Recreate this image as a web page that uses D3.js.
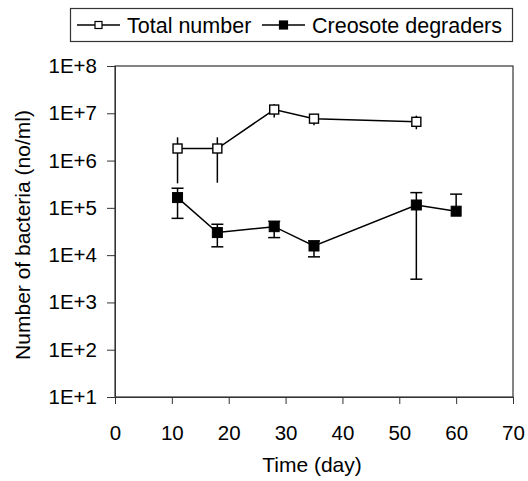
<!DOCTYPE html>
<html>
<head>
<meta charset="utf-8">
<script src="https://cdn.jsdelivr.net/npm/d3@7"></script>
<style>
  body { margin: 0; background: #fff; }
  text { font-family: "Liberation Sans", Arial, Helvetica, sans-serif; fill: #000; }
</style>
</head>
<body>
<div id="chart"></div>
<script>
// days sampled
const daysTotal = [11, 18, 28, 35, 53];
const daysCreo = [11, 18, 28, 35, 53, 60];

// total number of bacteria (no/ml), with error bar ends
const totalVals = [1.8e6, 1.8e6, 1.2e7, 7.7e6, 6.6e6];
const totalHigh = [3.1e6, 3.1e6, 1.55e7, 9.0e6, 8.9e6];
const totalLow = [3.3e5, 3.4e5, 8.1e6, 5.6e6, 4.6e6];

// creosote degraders (no/ml)
const creoVals = [1.65e5, 3.0e4, 4.0e4, 1.56e4, 1.15e5, 8.5e4];
const creoHigh = [2.6e5, 4.5e4, 5.2e4, 2.0e4, 2.1e5, 1.95e5];
const creoLow = [6.0e4, 1.5e4, 2.35e4, 9.2e3, 3.1e3, 8.5e4];

const xTicks = [0, 10, 20, 30, 40, 50, 60, 70];
const yTicks = [1e1, 1e2, 1e3, 1e4, 1e5, 1e6, 1e7, 1e8];
const yTickLabels = ["1E+1", "1E+2", "1E+3", "1E+4", "1E+5", "1E+6", "1E+7", "1E+8"];
const seriesNames = ["Total number", "Creosote degraders"];

const width = 528, height = 481;
const margin = { top: 66, right: 15, bottom: 84, left: 115 };

const svg = d3.select("#chart").append("svg")
    .attr("width", width)
    .attr("height", height);

const x = d3.scaleLinear()
    .domain([0, 70])
    .range([margin.left, width - margin.right]);

const y = d3.scaleLog()
    .domain([10, 1e8])
    .range([height - margin.bottom, margin.top]);

// plot frame
svg.append("rect")
    .attr("x", x(0)).attr("y", y(1e8))
    .attr("width", x(70) - x(0)).attr("height", y(10) - y(1e8))
    .attr("fill", "none").attr("stroke", "#333").attr("stroke-width", 1.2);

// x axis
const xAxis = svg.append("g")
    .attr("transform", `translate(0,${y(10)})`)
    .call(d3.axisBottom(x).tickValues(xTicks).tickSize(7).tickPadding(21).tickFormat(d3.format("d")));
xAxis.select(".domain").attr("stroke", "#333");
xAxis.selectAll(".tick line").attr("stroke", "#333");
xAxis.selectAll("text").attr("font-size", 20.5).style("fill", "#000");

// y axis
const yAxis = svg.append("g")
    .attr("transform", `translate(${x(0)},0)`)
    .call(d3.axisLeft(y).tickValues(yTicks).tickSize(8).tickPadding(10)
        .tickFormat((d, i) => yTickLabels[i]));
yAxis.select(".domain").attr("stroke", "#333");
yAxis.selectAll(".tick line").attr("stroke", "#333");
yAxis.selectAll("text").attr("font-size", 20.5).style("fill", "#000");

// axis titles
svg.append("text")
    .attr("x", (x(0) + x(70)) / 2 - 2).attr("y", 472)
    .attr("text-anchor", "middle").attr("font-size", 21)
    .text("Time (day)");

svg.append("text")
    .attr("transform", `translate(30,235) rotate(-90)`)
    .attr("text-anchor", "middle").attr("font-size", 21)
    .text("Number of bacteria (no/ml)");

const line = d3.line().x(d => x(d[0])).y(d => y(d[1]));

function drawSeries(days, vals, hi, lo, filled, caps) {
    const pts = days.map((d, i) => [d, vals[i], hi[i], lo[i]]);
    const g = svg.append("g");
    // error bars
    g.selectAll("line.err").data(pts).join("line")
        .attr("class", "err")
        .attr("x1", d => x(d[0])).attr("x2", d => x(d[0]))
        .attr("y1", d => y(d[2])).attr("y2", d => y(d[3]))
        .attr("stroke", "#000").attr("stroke-width", 1.5);
    if (caps) {
        g.selectAll("line.caphi").data(pts).join("line")
            .attr("class", "caphi")
            .attr("x1", d => x(d[0]) - 6).attr("x2", d => x(d[0]) + 6)
            .attr("y1", d => y(d[2])).attr("y2", d => y(d[2]))
            .attr("stroke", "#000").attr("stroke-width", 1.5);
        g.selectAll("line.caplo").data(pts.filter(d => d[3] < d[1])).join("line")
            .attr("class", "caplo")
            .attr("x1", d => x(d[0]) - 6).attr("x2", d => x(d[0]) + 6)
            .attr("y1", d => y(d[3])).attr("y2", d => y(d[3]))
            .attr("stroke", "#000").attr("stroke-width", 1.5);
    }
    g.append("path").datum(pts)
        .attr("d", line)
        .attr("fill", "none").attr("stroke", "#000").attr("stroke-width", 1.5);
    const s = filled ? 10 : 9;
    g.selectAll("rect").data(pts).join("rect")
        .attr("x", d => x(d[0]) - s / 2).attr("y", d => y(d[1]) - s / 2)
        .attr("width", s).attr("height", s)
        .attr("fill", filled ? "#000" : "#fff")
        .attr("stroke", "#000").attr("stroke-width", filled ? 1 : 1.4);
}

drawSeries(daysTotal, totalVals, totalHigh, totalLow, false, false);
drawSeries(daysCreo, creoVals, creoHigh, creoLow, true, true);

// legend
const legend = svg.append("g");
legend.append("rect")
    .attr("x", 70.5).attr("y", 8.5).attr("width", 442).attr("height", 33)
    .attr("fill", "#fff").attr("stroke", "#333").attr("stroke-width", 1.2);

const legendItems = [
    { name: seriesNames[0], x0: 77, filled: false },
    { name: seriesNames[1], x0: 262, filled: true }
];
legendItems.forEach(it => {
    legend.append("line")
        .attr("x1", it.x0).attr("x2", it.x0 + 43)
        .attr("y1", 25).attr("y2", 25)
        .attr("stroke", "#000").attr("stroke-width", 1.5);
    const s = it.filled ? 8 : 7;
    legend.append("rect")
        .attr("x", it.x0 + 21.5 - s / 2).attr("y", 25 - s / 2)
        .attr("width", s).attr("height", s)
        .attr("fill", it.filled ? "#000" : "#fff")
        .attr("stroke", "#000").attr("stroke-width", 1.2);
    legend.append("text")
        .attr("x", it.x0 + 50).attr("y", 33)
        .attr("font-size", 21.5)
        .text(it.name);
});
</script>
</body>
</html>
